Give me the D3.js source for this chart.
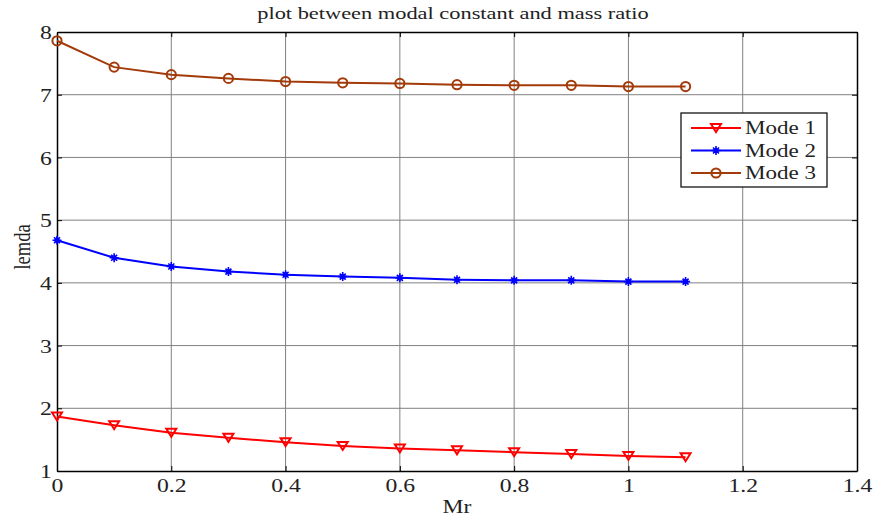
<!DOCTYPE html>
<html><head><meta charset="utf-8">
<script src="https://cdn.jsdelivr.net/npm/d3@7"></script>
<style>body{margin:0;background:#fff}svg{display:block}svg text{font-family:"Liberation Serif","Times New Roman",serif !important}</style>
</head><body><svg id="c" width="875" height="519"></svg>
<script>
const mr = [0,0.1,0.2,0.3,0.4,0.5,0.6,0.7,0.8,0.9,1.0,1.1];
const mode1 = [1.87,1.73,1.61,1.53,1.46,1.40,1.36,1.33,1.30,1.27,1.24,1.22];
const mode2 = [4.68,4.40,4.26,4.18,4.13,4.10,4.08,4.05,4.04,4.04,4.02,4.02];
const mode3 = [7.86,7.44,7.32,7.26,7.21,7.19,7.18,7.16,7.15,7.15,7.13,7.13];
const xTicks = [0,0.2,0.4,0.6,0.8,1,1.2,1.4];
const yTicks = [1,2,3,4,5,6,7,8];
const seriesNames = ["Mode 1","Mode 2","Mode 3"];
const colors = ["#ff0000","#0000ff","#a33a0a"];
const SX = 1.28; // horizontal stretch of the reference's text

const svg = d3.select("#c");
const L=57,R=857,T=32,B=471;
const x = d3.scaleLinear().domain([0,1.4]).range([L,R]);
const y = d3.scaleLinear().domain([1,8]).range([B,T]);

// grid
svg.append("g").selectAll("line").data(xTicks.slice(1,-1)).join("line")
  .attr("x1",d=>x(d)).attr("x2",d=>x(d)).attr("y1",T).attr("y2",B)
  .attr("stroke","#808080").attr("stroke-width",1);
svg.append("g").selectAll("line").data(yTicks.slice(1,-1)).join("line")
  .attr("y1",d=>y(d)).attr("y2",d=>y(d)).attr("x1",L).attr("x2",R)
  .attr("stroke","#808080").attr("stroke-width",1);

// axes
const xa = svg.append("g").attr("transform",`translate(0,${B})`)
  .call(d3.axisBottom(x).tickValues(xTicks).tickFormat(d3.format("")).tickSizeInner(-5).tickSizeOuter(0).tickPadding(8));
const xt = svg.append("g").attr("transform",`translate(0,${T})`)
  .call(d3.axisTop(x).tickValues(xTicks).tickFormat("").tickSizeInner(-5).tickSizeOuter(0));
const ya = svg.append("g").attr("transform",`translate(${L},0)`)
  .call(d3.axisLeft(y).tickValues(yTicks).tickFormat(d3.format("d")).tickSizeInner(-5).tickSizeOuter(0).tickPadding(4));
const yr = svg.append("g").attr("transform",`translate(${R},0)`)
  .call(d3.axisRight(y).tickValues(yTicks).tickFormat("").tickSizeInner(-5).tickSizeOuter(0));
[xa,xt,ya,yr].forEach(g=>{
  g.attr("font-family",null).attr("font-size",null);
  g.selectAll("path").attr("stroke","#000").attr("stroke-width",1.5);
  g.selectAll("line").attr("stroke","#000");
  g.selectAll("text").style("font-size","18.5px").attr("fill","#222").attr("transform",`scale(${SX},1)`);
});
ya.selectAll("text").attr("dy","0.36em");

// series
const data = [mode1,mode2,mode3];
const line = d3.line().x((d,i)=>x(mr[i])).y(d=>y(d));
const tri = "M-5,-4L5,-4L0,4Z";
const ast = "M-4.5,0L4.5,0M0,-4.5L0,4.5M-3,-3L3,3M-3,3L3,-3";
function marker(g,k,cx,cy){
  if(k===0){
    g.append("path").attr("d",tri).attr("transform",`translate(${cx},${cy})`)
     .attr("fill","none").attr("stroke",colors[0]).attr("stroke-width",2);
  } else if(k===1){
    g.append("path").attr("d",ast).attr("transform",`translate(${cx},${cy})`)
     .attr("fill","none").attr("stroke",colors[1]).attr("stroke-width",1.6);
    g.append("circle").attr("cx",cx).attr("cy",cy).attr("r",2.6).attr("fill",colors[1]);
  } else {
    g.append("circle").attr("cx",cx).attr("cy",cy).attr("r",4.6)
     .attr("fill","none").attr("stroke",colors[2]).attr("stroke-width",2);
  }
}
data.forEach((s,k)=>{
  const g = svg.append("g");
  g.append("path").datum(s).attr("d",line).attr("fill","none").attr("stroke",colors[k]).attr("stroke-width",2);
  s.forEach((v,i)=>marker(g,k,x(mr[i]),y(v)));
});

// title & labels
svg.append("text").attr("transform",`translate(453,19) scale(${SX},1)`).attr("text-anchor","middle").style("font-size","17.5px").attr("fill","#222").text("plot between modal constant and mass ratio");
svg.append("text").attr("transform",`translate(457,513) scale(${SX},1)`).attr("text-anchor","middle").style("font-size","18.5px").attr("fill","#222").text("Mr");
svg.append("text").attr("transform",`translate(30,247) rotate(-90) scale(1,${SX})`).attr("text-anchor","middle").style("font-size","18.5px").attr("fill","#222").text("lemda");

// legend
const lg = svg.append("g");
lg.append("rect").attr("x",681).attr("y",113).attr("width",146).attr("height",74).attr("fill","#fff").attr("stroke","#000").attr("stroke-width",1.2);
seriesNames.forEach((n,k)=>{
  const yy = 128 + k*22.5;
  lg.append("line").attr("x1",691).attr("x2",741).attr("y1",yy).attr("y2",yy).attr("stroke",colors[k]).attr("stroke-width",2);
  marker(lg,k,716,yy);
  lg.append("text").attr("transform",`translate(745,${yy+6}) scale(${SX},1)`).style("font-size","18px").attr("fill","#222").text(n);
});
</script></body></html>
